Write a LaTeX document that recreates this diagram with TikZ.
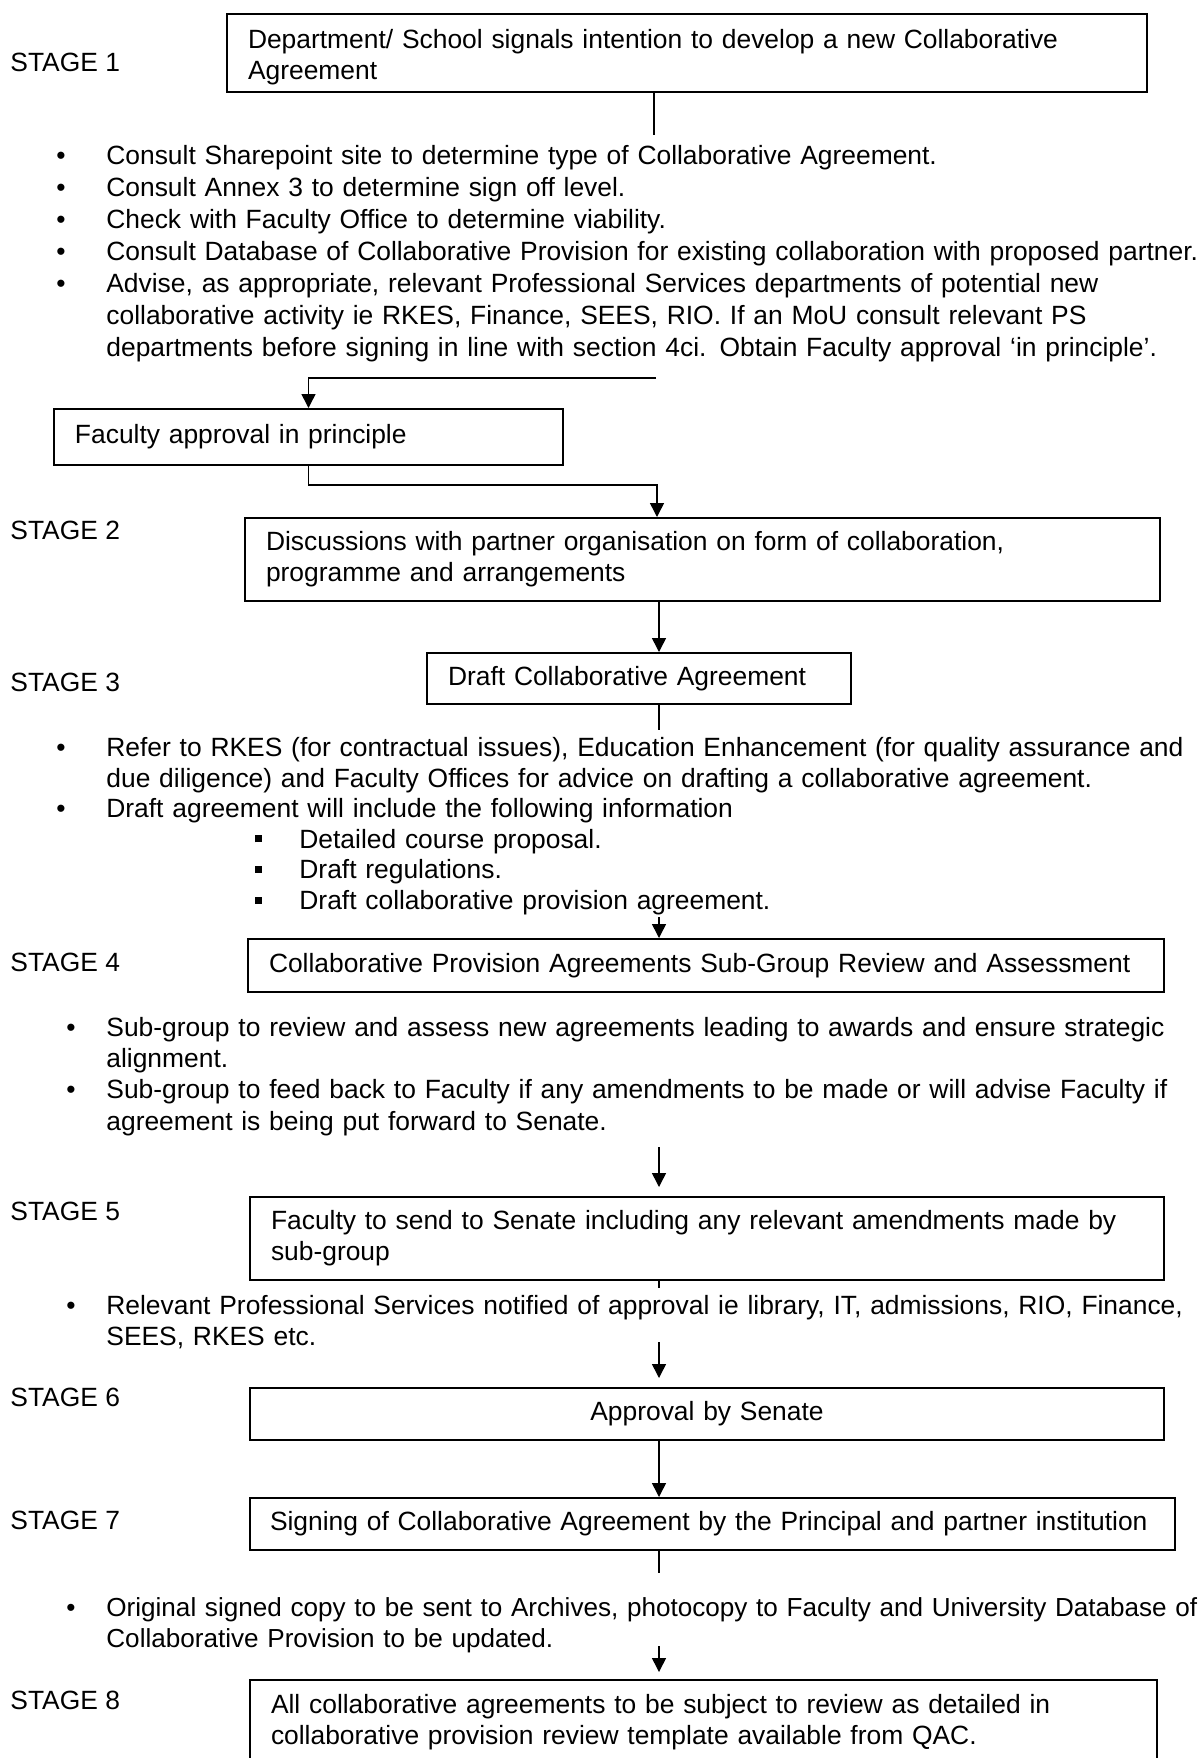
\documentclass[tikz,border=0pt]{standalone}
\usepackage{fontspec}
\setmainfont{Liberation Sans}
\usetikzlibrary{arrows.meta}
\newcommand{\bitem}[2][25pt]{\noindent\hangindent=#1\hangafter=1\makebox[#1][l]{\textbullet}#2\par}
\newcommand{\sitem}[1]{\noindent\hspace{99.5pt}\makebox[22pt][l]{\rule[3pt]{3.5pt}{3.5pt}}#1\par}
\begin{document}
\begin{tikzpicture}[x=0.5pt,y=-0.5pt]
\tikzstyle{every node}=[inner sep=0pt, font=\fontsize{13.2}{15.6}\selectfont]
\tikzstyle{stagebox}=[draw, line width=1pt, anchor=north west, inner xsep=10.5pt, inner ysep=3pt, align=left]
\tikzstyle{stagelabel}=[anchor=west]
\tikzstyle{notes}=[anchor=north west, text width=580pt]
\tikzstyle{link}=[line width=0.75pt]
\tikzstyle{flow}=[link, -{Triangle[width=7pt,length=7pt]}]
\useasboundingbox (0,0) rectangle (1203,1758);
\coordinate (axis) at (659,0);
\node[stagelabel] (s1) at (10,62) {STAGE 1};
\node[stagelabel] (s2) at (10,530) {STAGE 2};
\node[stagelabel] (s3) at (10,682) {STAGE 3};
\node[stagelabel] (s4) at (10,962) {STAGE 4};
\node[stagelabel] (s5) at (10,1211) {STAGE 5};
\node[stagelabel] (s6) at (10,1397) {STAGE 6};
\node[stagelabel] (s7) at (10,1520) {STAGE 7};
\node[stagelabel] (s8) at (10,1700) {STAGE 8};
\node[stagebox, text width=439pt, minimum height=39pt] (b1) at (226,13)
  {\rule{0pt}{14pt}Department/ School signals intention to develop a new Collaborative\\Agreement};
\node[notes, font=\fontsize{13.2}{16}\selectfont] (n1) at (56,145) {%
  \bitem{Consult Sharepoint site to determine type of Collaborative Agreement.}
  \bitem{Consult Annex 3 to determine sign off level.}
  \bitem{Check with Faculty Office to determine viability.}
  \bitem{Consult Database of Collaborative Provision for existing collaboration with proposed partner.}
  \bitem{Advise, as appropriate, relevant Professional Services departments of potential new\newline collaborative activity ie RKES, Finance, SEES, RIO. If an MoU consult relevant PS\newline departments before signing in line with section 4ci. Obtain Faculty approval ‘in principle’.}};
\node[stagebox, text width=233.5pt, minimum height=28pt] (fac) at (53,408) {Faculty approval in principle};
\node[stagebox, text width=436.5pt, minimum height=41.5pt] (b2) at (244,517)
  {Discussions with partner organisation on form of collaboration,\\programme and arrangements};
\node[stagebox, text width=191pt, minimum height=25.5pt] (b3) at (426,652) {Draft Collaborative Agreement};
\node[notes, font=\fontsize{13.2}{15.3}\selectfont] (n3) at (56,737) {%
  \bitem{Refer to RKES (for contractual issues), Education Enhancement (for quality assurance and\newline due diligence) and Faculty Offices for advice on drafting a collaborative agreement.}
  \bitem{Draft agreement will include the following information}
  \sitem{Detailed course proposal.}
  \sitem{Draft regulations.}
  \sitem{Draft collaborative provision agreement.}};
\node[stagebox, text width=437pt, minimum height=26.5pt] (b4) at (247,938)
  {Collaborative Provision Agreements Sub-Group Review and Assessment};
\node[notes] (n4) at (66,1017) {%
  \bitem[20pt]{Sub-group to review and assess new agreements leading to awards and ensure strategic\newline alignment.}
  \bitem[20pt]{Sub-group to feed back to Faculty if any amendments to be made or will advise Faculty if\newline agreement is being put forward to Senate.}};
\node[stagebox, text width=436pt, minimum height=41.5pt] (b5) at (249,1196)
  {Faculty to send to Senate including any relevant amendments made by\\sub-group};
\node[notes] (n5) at (66,1295) {%
  \bitem[20pt]{Relevant Professional Services notified of approval ie library, IT, admissions, RIO, Finance,\newline SEES, RKES etc.}};
\node[stagebox, text width=436pt, minimum height=26pt, align=center] (b6) at (249,1387) {Approval by Senate};
\node[stagebox, text width=442.5pt, inner xsep=10pt, minimum height=26pt] (b7) at (249,1497)
  {Signing of Collaborative Agreement by the Principal and partner institution};
\node[notes, font=\fontsize{13.05}{15.6}\selectfont] (n7) at (66,1597) {%
  \bitem[20pt]{Original signed copy to be sent to Archives, photocopy to Faculty and University Database of\newline Collaborative Provision to be updated.}};
\node[stagebox, text width=432.5pt, minimum height=42pt] (b8) at (249,1679)
  {All collaborative agreements to be subject to review as detailed in\\collaborative provision review template available from QAC.};
\coordinate (c1) at (654,135);
\draw[link] (c1 |- b1.south) -- (c1);
\coordinate (c2) at (656,378);
\draw[flow] (c2) -| (fac.north);
\coordinate (c3) at (657,485);
\draw[flow] (fac.south) |- (c3) -- (c3 |- b2.north);
\draw[flow] (axis |- b2.south) -- (axis |- b3.north);
\coordinate (c4) at (659,730);
\draw[link] (axis |- b3.south) -- (c4);
\coordinate (c5) at (659,917);
\draw[flow] (c5) -- (axis |- b4.north);
\coordinate (c6) at (659,1147);
\draw[flow, shorten >=4.5pt] (c6) -- (axis |- b5.north);
\coordinate (c7) at (659,1288);
\draw[link] (axis |- b5.south) -- (c7);
\coordinate (c8) at (659,1342);
\draw[flow, shorten >=4.5pt] (c8) -- (axis |- b6.north);
\draw[flow] (axis |- b6.south) -- (axis |- b7.north);
\coordinate (c9) at (659,1573);
\draw[link] (axis |- b7.south) -- (c9);
\coordinate (c10) at (659,1646);
\draw[flow, shorten >=3.5pt] (c10) -- (axis |- b8.north);
\end{tikzpicture}
\end{document}
